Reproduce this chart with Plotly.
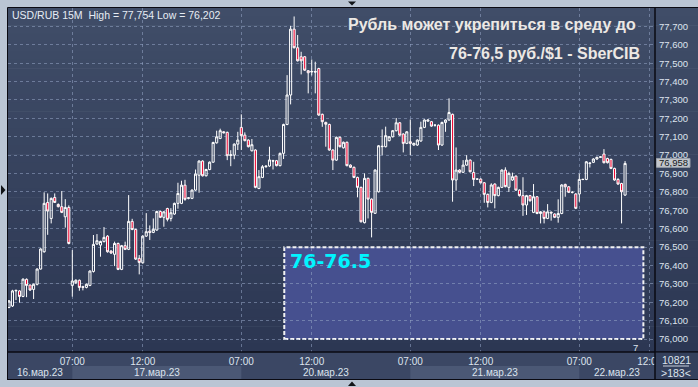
import plotly.graph_objects as go

# ---------------- data ----------------
opens = [76172, 76180, 76262, 76262, 76232, 76325, 76294, 76270, 76298, 76381,
         76475, 76743, 76656, 76770, 76732, 76720, 76665, 76716, 76292, 76307,
         76320, 76285, 76281, 76292, 76368, 76517, 76511, 76530, 76560, 76479,
         76461, 76520, 76379, 76508, 76488, 76640, 76596, 76439, 76415, 76560,
         76587, 76580, 76593, 76694, 76662, 76710, 76656, 76680, 76738, 76738,
         76837, 76765, 76765, 76810, 76891, 76968, 76888, 76922, 76962, 77067,
         77091, 77127, 77124, 76998, 77000, 77060, 77151, 77109, 77082, 77024,
         77028, 76819, 76879, 76937, 76941, 76970, 76970, 76943, 77010, 77167,
         77327, 77685, 77584, 77535, 77535, 77459, 77452, 77455, 77471, 77222,
         77178, 77167, 77028, 76973, 77097, 77040, 77070, 76946, 76934, 76879,
         76825, 76633, 76874, 76761, 76684, 76801, 77046, 77046, 77079, 77100,
         77133, 77176, 77115, 77064, 77073, 77055, 77055, 77077, 77151, 77185,
         77182, 77163, 77163, 77055, 77178, 77191, 77222, 76865, 76919, 76907,
         76946, 76973, 76906, 76870, 76870, 76850, 76787, 76743, 76843, 76780,
         76825, 76919, 76825, 76865, 76886, 76810, 76780, 76729, 76780, 76689,
         76774, 76683, 76692, 76656, 76690, 76680, 76662, 76683, 76841, 76828,
         76798, 76789, 76789, 76868, 76868, 76955, 76961, 76979, 76988, 77006,
         76982, 76977, 76928, 76868, 76846, 76783]
highs = [76212, 76268, 76268, 76266, 76330, 76330, 76296, 76302, 76385, 76494,
         76798, 76792, 76770, 76792, 76738, 76805, 76761, 76727, 76484, 76325,
         76324, 76290, 76302, 76374, 76566, 76571, 76535, 76609, 76565, 76483,
         76530, 76525, 76512, 76530, 76783, 76654, 76600, 76457, 76565, 76685,
         76618, 76656, 76698, 76698, 76696, 76714, 76712, 76742, 76850, 76861,
         76866, 76772, 76814, 76922, 76972, 76972, 76926, 76966, 77073, 77133,
         77144, 77131, 77128, 77027, 77064, 77127, 77222, 77124, 77086, 77088,
         77032, 76919, 76946, 76945, 77046, 76975, 76974, 77014, 77171, 77435,
         77703, 77754, 77653, 77562, 77539, 77463, 77520, 77508, 77475, 77226,
         77182, 77171, 77032, 77101, 77101, 77074, 77074, 76950, 76938, 76883,
         76829, 76901, 76878, 76765, 76923, 77055, 77140, 77155, 77104, 77137,
         77202, 77180, 77119, 77131, 77194, 77068, 77086, 77182, 77195, 77195,
         77186, 77167, 77167, 77182, 77195, 77309, 77226, 77042, 76923, 76973,
         77000, 76977, 76964, 76874, 76874, 76854, 76791, 76847, 76847, 76829,
         76923, 76934, 76910, 76905, 76890, 76814, 76880, 76784, 76784, 76843,
         76778, 76696, 76696, 76734, 76694, 76684, 76760, 76842, 76845, 76832,
         76804, 76793, 76900, 76872, 76968, 76961, 76983, 76992, 76995, 77033,
         76986, 76981, 76932, 76875, 76850, 76968]
lows = [76168, 76175, 76212, 76198, 76228, 76228, 76262, 76218, 76292, 76378,
        76470, 76567, 76629, 76740, 76716, 76685, 76606, 76515, 76231, 76300,
        76263, 76265, 76276, 76288, 76362, 76512, 76448, 76526, 76470, 76463,
        76397, 76375, 76375, 76484, 76484, 76592, 76430, 76352, 76410, 76556,
        76539, 76576, 76589, 76658, 76611, 76640, 76640, 76676, 76709, 76734,
        76752, 76760, 76761, 76806, 76796, 76884, 76884, 76918, 76958, 77063,
        77087, 77118, 76973, 76940, 76978, 77028, 77028, 77075, 77042, 77020,
        76820, 76815, 76875, 76932, 76937, 76922, 76939, 76939, 76979, 77163,
        77276, 77580, 77509, 77439, 77458, 77336, 77433, 77336, 77214, 77154,
        77046, 77024, 76919, 76969, 77042, 77036, 76939, 76930, 76875, 76771,
        76634, 76629, 76656, 76553, 76680, 76797, 77000, 77042, 77075, 77096,
        77129, 77105, 77015, 77060, 77000, 77051, 77051, 77073, 77147, 77181,
        77154, 77155, 77028, 77051, 77127, 77187, 76747, 76807, 76903, 76903,
        76942, 76906, 76832, 76866, 76846, 76741, 76716, 76739, 76711, 76776,
        76821, 76825, 76800, 76860, 76806, 76775, 76670, 76675, 76748, 76685,
        76679, 76629, 76629, 76652, 76644, 76658, 76633, 76679, 76774, 76794,
        76792, 76707, 76747, 76864, 76864, 76933, 76957, 76975, 76985, 76955,
        76955, 76924, 76861, 76839, 76629, 76779]
closes = [76208, 76262, 76265, 76232, 76326, 76292, 76267, 76298, 76381, 76490,
          76738, 76696, 76765, 76743, 76720, 76689, 76716, 76520, 76316, 76320,
          76281, 76282, 76298, 76370, 76515, 76535, 76531, 76553, 76475, 76468,
          76520, 76379, 76508, 76488, 76640, 76596, 76435, 76417, 76560, 76584,
          76580, 76597, 76694, 76662, 76692, 76651, 76687, 76738, 76792, 76837,
          76760, 76768, 76810, 76897, 76968, 76888, 76922, 76962, 77069, 77100,
          77133, 77122, 76997, 77002, 77060, 77082, 77106, 77079, 77046, 77057,
          76825, 76883, 76937, 76940, 76974, 76968, 76943, 77010, 77167, 77327,
          77685, 77584, 77513, 77513, 77462, 77448, 77455, 77452, 77218, 77182,
          77168, 77028, 76973, 77097, 77046, 77070, 76943, 76934, 76879, 76825,
          76638, 76874, 76761, 76689, 76919, 77051, 77048, 77106, 77100, 77133,
          77176, 77109, 77064, 77127, 77064, 77064, 77082, 77151, 77191, 77191,
          77158, 77163, 77055, 77178, 77191, 77232, 76865, 76919, 76907, 76946,
          76973, 76910, 76868, 76870, 76850, 76787, 76743, 76838, 76780, 76825,
          76919, 76829, 76901, 76883, 76810, 76780, 76729, 76780, 76752, 76774,
          76683, 76692, 76656, 76692, 76686, 76662, 76683, 76838, 76828, 76798,
          76798, 76711, 76868, 76868, 76964, 76957, 76979, 76988, 76991, 76959,
          76959, 76928, 76865, 76843, 76801, 76955]
candle_idx = list(range(len(opens)))

time_tick_idx = [18, 38, 66, 86, 114, 134, 162, 182]
time_tick_text = ["07:00", "12:00", "07:00", "12:00", "07:00", "12:00", "07:00", "12:00"]
day_labels = ["16.мар.23", "17.мар.23", "20.мар.23", "21.мар.23", "22.мар.23"]
day_start_idx = [-0.27, 18, 66, 114, 162]
day_end_idx = [18, 66, 114, 162, 183.5]
price_ticks = [76000, 76100, 76200, 76300, 76400, 76500, 76600, 76700, 76800,
               76900, 77000, 77100, 77200, 77300, 77400, 77500, 77600, 77700]
price_tick_text = ["76,000", "76,100", "76,200", "76,300", "76,400", "76,500",
                   "76,600", "76,700", "76,800", "76,900", "77,000", "77,100",
                   "77,200", "77,300", "77,400", "77,500", "77,600", "77,700"]
last_price = 76958
last_price_text = "76,958"
target_low, target_high = 76000, 76500
target_label = "76-76.5"
header_text = "USD/RUB 15M  High = 77,754 Low = 76,202"
title_line1 = "Рубль может укрепиться в среду до"
title_line2 = "76-76,5 руб./$1 - SberCIB"
bars_total = "10821"
bars_shown = ">183<"

# ---------------- layout geometry ----------------
W, H = 698, 387
PL, PR, PT, PB = 8, 655, 8, 352
X_RANGE = [-0.27, 183.5]
Y_RANGE = [75930, 77800]


def xp(px):
    return (px - PL) / (PR - PL)


def yp(py):
    return (PB - py) / (PB - PT)


FONT = "Liberation Sans, Arial, sans-serif"
TXT = "#dde4ee"
GRID = "rgba(150,166,198,0.55)"

fig = go.Figure()
fig.add_trace(go.Candlestick(
    x=candle_idx, open=opens, high=highs, low=lows, close=closes,
    increasing=dict(line=dict(color="#ffffff", width=1), fillcolor="rgba(0,0,0,0)"),
    decreasing=dict(line=dict(color="#ffffff", width=1), fillcolor="#ee0a36"),
    whiskerwidth=0, hoverinfo="skip", showlegend=False,
))

shapes = []
# gradient background (plot + right panel)
top_c = (64, 77, 104)
bot_c = (44, 55, 83)
N = 40
for k in range(N):
    t = k / (N - 1)
    c = tuple(round(top_c[j] + (bot_c[j] - top_c[j]) * t) for j in range(3))
    y0 = PT + (PB - PT) * k / N
    y1 = PT + (PB - PT) * (k + 1) / N + 0.6
    shapes.append(dict(type="rect", xref="paper", yref="paper", layer="below",
                       x0=xp(PL), x1=xp(W + 2), y0=yp(y1), y1=yp(y0),
                       fillcolor="rgb(%d,%d,%d)" % c, line=dict(width=0)))
# x-axis panel
shapes.append(dict(type="rect", xref="paper", yref="paper", layer="below",
                   x0=xp(PL), x1=xp(W + 2), y0=yp(380), y1=yp(PB),
                   fillcolor="#3b4764", line=dict(width=0)))
# date band shading (alternating)
for i in (1, 3):
    shapes.append(dict(type="rect", xref="x", yref="paper", layer="below",
                       x0=day_start_idx[i], x1=day_end_idx[i], y0=yp(379), y1=yp(366),
                       fillcolor="#4b5875", line=dict(width=0)))
# target zone
shapes.append(dict(type="rect", xref="x", yref="y", layer="below",
                   x0=78.2, x1=180.2, y0=target_low, y1=target_high,
                   fillcolor="#46508f", line=dict(color="#f2f2f2", width=2, dash="4px,2px")))
# frame lines
shapes += [
    dict(type="line", xref="paper", yref="paper", x0=xp(PL), x1=xp(W + 2), y0=yp(PB), y1=yp(PB),
         line=dict(color="#0a0a12", width=1.5), layer="above"),
    dict(type="line", xref="paper", yref="paper", x0=xp(7.5), x1=xp(W + 2), y0=yp(7.5), y1=yp(7.5),
         line=dict(color="#0a0a12", width=1), layer="above"),
    dict(type="line", xref="paper", yref="paper", x0=xp(7.5), x1=xp(7.5), y0=yp(380), y1=yp(7.5),
         line=dict(color="#0a0a12", width=1), layer="above"),
    dict(type="line", xref="paper", yref="paper", x0=xp(7.5), x1=xp(W + 2), y0=yp(379.5), y1=yp(379.5),
         line=dict(color="#0a0a12", width=1), layer="above"),
]
# bottom-right cell (covers clipped tick label)
shapes.append(dict(type="rect", xref="paper", yref="paper", layer="above",
                   x0=xp(PR), x1=xp(W + 2), y0=yp(379), y1=yp(PB + 0.8),
                   fillcolor="#34405c", line=dict(width=0)))
shapes.append(dict(type="line", xref="paper", yref="paper", x0=xp(PR), x1=xp(PR), y0=yp(380), y1=yp(PT),
                   line=dict(color="#0a0a12", width=1.5), layer="above"))
shapes.append(dict(type="line", xref="paper", yref="paper", x0=xp(663), x1=xp(689), y0=yp(366), y1=yp(366),
                   line=dict(color="#c8d0dc", width=1), layer="above"))
# current price marker
shapes.append(dict(type="rect", xref="paper", yref="y", layer="above",
                   x0=xp(656.5), x1=xp(690), y0=last_price - 24, y1=last_price + 24,
                   fillcolor="#c3c6cc", line=dict(color="#9aa0aa", width=1)))


def tri(pts):
    path = "M " + " L ".join("%f,%f" % (xp(a), yp(b)) for a, b in pts) + " Z"
    return dict(type="path", xref="paper", yref="paper", path=path,
                fillcolor="#111418", line=dict(width=0), layer="above")


shapes.append(tri([(348, 1.5), (356, 1.5), (352, 5.5)]))
shapes.append(tri([(1, 185), (1, 195), (5.5, 190)]))
shapes.append(tri([(348, 386), (356, 386), (352, 381.5)]))

annotations = [
    dict(xref="paper", yref="paper", x=xp(10), y=yp(15), xanchor="left", yanchor="middle",
         text=header_text, showarrow=False, font=dict(family=FONT, size=10.5, color="#e6ecf4")),
    dict(xref="paper", yref="paper", x=xp(638), y=yp(25), xanchor="right", yanchor="middle",
         text="<b>%s</b>" % title_line1, showarrow=False,
         font=dict(family=FONT, size=16, color="#ece8e4")),
    dict(xref="paper", yref="paper", x=xp(642), y=yp(53), xanchor="right", yanchor="middle",
         text="<b>%s</b>" % title_line2, showarrow=False,
         font=dict(family=FONT, size=16, color="#ece8e4")),
    dict(xref="x", yref="paper", x=78.2, y=yp(261), xanchor="left", yanchor="middle", xshift=4,
         text="<b>%s</b>" % target_label, showarrow=False,
         font=dict(family="DejaVu Sans, sans-serif", size=19, color="#00f4ff")),
    dict(xref="paper", yref="y", x=xp(673), y=last_price, xanchor="center", yanchor="middle",
         text=last_price_text, showarrow=False, font=dict(family=FONT, size=9.5, color="#151820")),
    dict(xref="paper", yref="paper", x=xp(676), y=yp(360), xanchor="center", yanchor="middle",
         text=bars_total, showarrow=False, font=dict(family=FONT, size=10.5, color=TXT)),
    dict(xref="paper", yref="paper", x=xp(676), y=yp(372.5), xanchor="center", yanchor="middle",
         text=bars_shown, showarrow=False, font=dict(family=FONT, size=10.5, color=TXT)),
    dict(xref="paper", yref="paper", x=xp(635), y=yp(347), xanchor="center", yanchor="middle",
         text="7", showarrow=False, font=dict(family=FONT, size=9.5, color=TXT)),
]
for lab, a, b in zip(day_labels, day_start_idx, day_end_idx):
    annotations.append(dict(xref="x", yref="paper", x=(a + b) / 2, y=yp(372.5),
                            xanchor="center", yanchor="middle", text=lab, showarrow=False,
                            font=dict(family=FONT, size=10, color=TXT)))

fig.update_layout(
    width=W, height=H,
    margin=dict(l=PL, r=W - PR, t=PT, b=H - PB),
    paper_bgcolor="#bac5d4", plot_bgcolor="rgba(0,0,0,0)",
    showlegend=False, boxgap=0.15,
    shapes=shapes, annotations=annotations,
    xaxis=dict(range=X_RANGE, rangeslider=dict(visible=False), tickmode="array",
               tickvals=time_tick_idx, ticktext=time_tick_text, showgrid=True,
               gridcolor=GRID, griddash="3px,3px", gridwidth=1,
               zeroline=False, showline=False, ticks="", ticklabelstandoff=2,
               tickfont=dict(family=FONT, size=10, color=TXT)),
    yaxis=dict(range=Y_RANGE, side="right", tickmode="array", tickvals=price_ticks,
               ticktext=price_tick_text, showgrid=True, gridcolor=GRID,
               griddash="3px,3px", gridwidth=1, zeroline=False, showline=False, ticks="",
               ticklabelstandoff=3, tickfont=dict(family=FONT, size=9.5, color=TXT)),
    hovermode=False,
)

fig.write_html("out.html", config={"displayModeBar": False},
               post_script="document.body.style.margin='0';document.body.style.padding='0';")
